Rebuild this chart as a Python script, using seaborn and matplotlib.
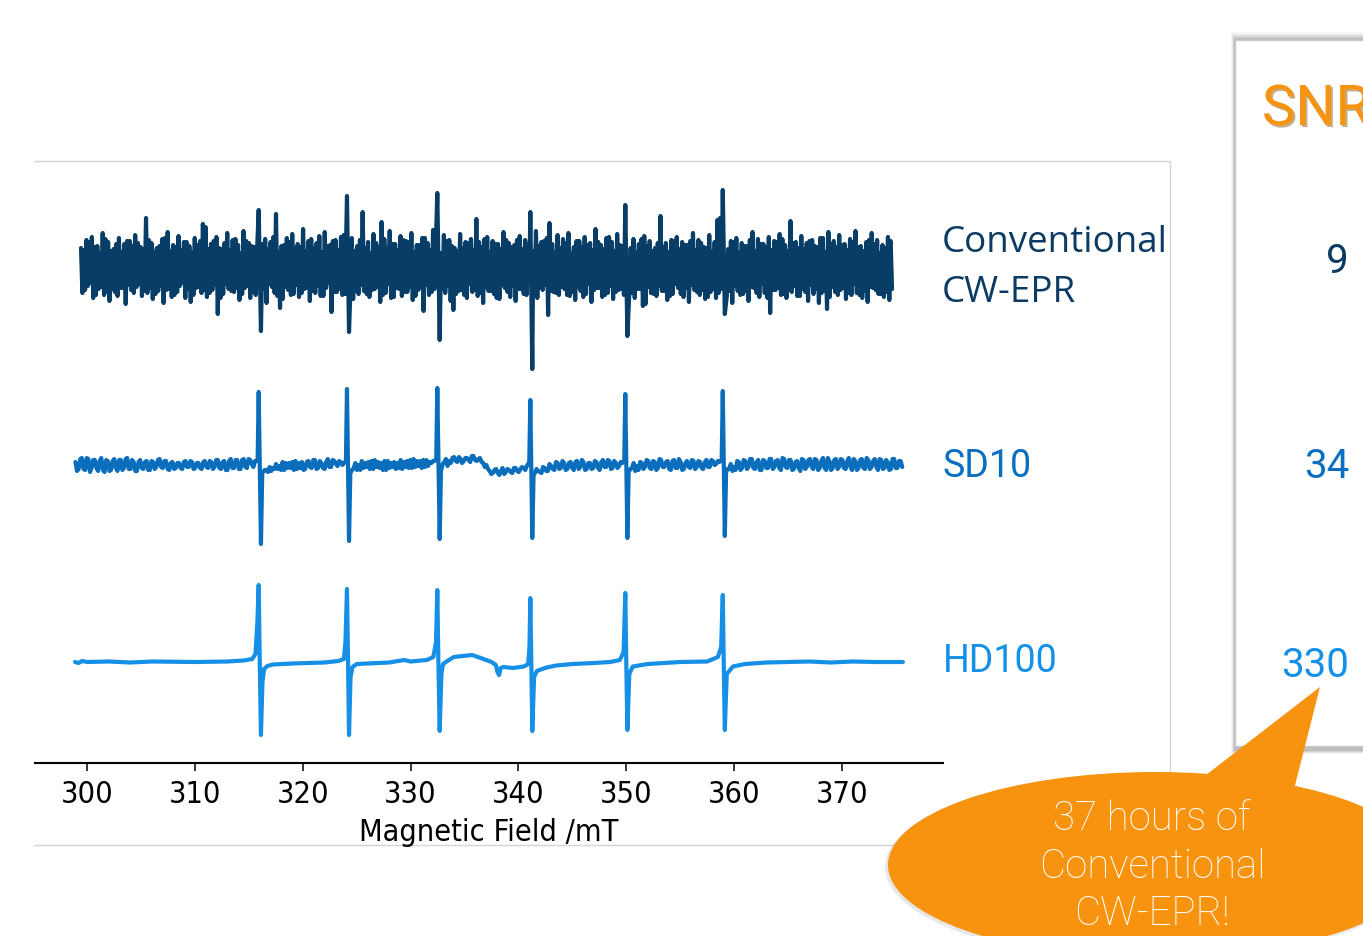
import numpy as np
import pandas as pd
import matplotlib
matplotlib.use("Agg")
import matplotlib.pyplot as plt
from matplotlib.patches import Ellipse, Polygon, Rectangle
import matplotlib.patheffects as pe
import seaborn as sns

# ------------------------------------------------------------------ data
field_ticks = [300, 310, 320, 330, 340, 350, 360, 370]
trace_names = ["Conventional", "SD10", "HD100"]
trace_offsets = [495, 298, 101]
trace_colors = ["#073d66", "#0b6ebd", "#168fe6"]
snr_values = ["9", "34", "330"]

# hyperfine line positions (mT): positive lobe / negative lobe
peak_up_x = [315.90, 324.09, 332.47, 341.10, 349.91, 358.95]
peak_dn_x = [316.11, 324.28, 332.69, 341.28, 350.10, 359.14]

# Conventional CW-EPR (very noisy); two read-off sample sets, taken pairwise in turn
conv_start, conv_end = 299.42, 374.65
conv_noise_a = [
    20, -25, 28, -18, 31, -30, 22, -21, 35, -27, 26, -33, 19, -24, 30, -20, 24, -36, 27, -22,
    33, -19, 21, -28, 50, -25, 25, -31, 20, -23, 29, -35, 36, -21, 23, -27, 32, -18, 26, -30,
    22, -34, 30, -20, 27, -25, 41, -29, 24, -22, 31, -46, 19, -26, 35, -21, 28, -24, 23, -32,
    37, -20, 25, -30, 21, -27, 33, -23, 29, -35, 26, -19, 54, -28, 22, -31, 30, -22, 34, -26,
    24, -29, 39, -21, 27, -33, 20, -25, 32, -28, 36, -20, 23, -44, 28, -24, 31, -27, 25, -22,
    30, -31, 22, -26, 56, -23, 26, -29, 34, -21, 21, -34, 29, -25, 37, -30, 24, -20, 32, -28,
    27, -24, 35, -32, 23, -22, 30, -43, 25, -27, 38, -21, 22, -29, 33, -25, 28, -33, 20, -26,
    34, -22, 26, -30, 29, -24, 49, -28, 21, -35, 31, -23, 27, -26, 24, -31, 36, -20, 25, -29,
    23, -33, 32, -21, 28, -27, 22, -25, 37, -30, 26, -22, 30, -47, 24, -24, 33, -27, 29, -21,
    35, -28, 21, -32, 27, -23, 31, -26, 25, -34, 39, -20, 23, -29, 30, -25, 26, -31, 34, -22,
    22, -27, 36, -24, 29, -30, 24, -21, 32, -36, 27, -25, 20, -28, 52, -23, 25, -32, 28, -26,
    31, -20, 26, -29, 23, -34, 35, -22, 28, -27, 21, -31, 33, -24, 26, -30, 50, -21, 24, -28,
    27, -35, 30, -23, 25, -26, 22, -33, 36, -20, 29, -29, 24, -25, 31, -45, 27, -22, 34, -27,
    23, -30, 47, -24, 26, -28, 32, -21, 25, -33, 28, -26, 21, -35, 30, -23, 36, -29, 27, -24,
    33, -22, 24, -31, 29, -27, 37, -25, 22, -30, 26, -34, 35, -20, 28, -26, 23, -29, 31, -32,
]
conv_noise_b = [
    18, -22, 26, -15, 21, -27, 15, -19, 29, -24, 17, -21, 24, -28, 16, -20, 27, -17, 22, -25,
    25, -16, 19, -23, 28, -20, 16, -26, 22, -18, 30, -22, 17, -29, 21, -24, 18, -15, 26, -21,
    16, -27, 23, -19, 44, -22, 19, -25, 27, -17, 20, -30, 25, -16, 18, -23, 29, -20, 15, -26,
    27, -18, 22, -24, 17, -29, 24, -21, 19, -16, 31, -25, 16, -40, 23, -19, 26, -27, 20, -17,
    21, -25, 17, -20, 29, -23, 25, -18, 16, -28, 22, -15, 27, -24, 18, -21, 33, -26, 19, -20,
    17, -23, 28, -17, 20, -26, 15, -22, 25, -19, 46, -27, 21, -16, 24, -29, 18, -21, 28, -24,
    26, -19, 16, -28, 23, -20, 30, -17, 18, -24, 21, -26, 15, -21, 27, -18, 22, -42, 17, -23,
    20, -27, 25, -16, 18, -22, 26, -25, 29, -19, 16, -23, 24, -30, 19, -17, 28, -24, 21, -18,
    28, -21, 19, -26, 24, -15, 17, -28, 22, -20, 27, -17, 45, -23, 16, -25, 20, -19, 25, -27,
    15, -24, 27, -19, 21, -29, 23, -16, 18, -22, 26, -20, 19, -27, 31, -18, 17, -24, 23, -21,
    24, -17, 20, -25, 16, -21, 29, -38, 22, -19, 17, -26, 25, -18, 21, -23, 16, -28, 27, -16,
    19, -26, 23, -20, 27, -17, 18, -24, 25, -22, 20, -29, 17, -21, 48, -25, 23, -18, 19, -23,
    26, -18, 16, -27, 22, -23, 28, -19, 17, -25, 24, -16, 21, -30, 18, -22, 26, -20, 29, -26,
    17, -22, 25, -18, 20, -28, 19, -24, 27, -17, 22, -21, 30, -25, 16, -41, 24, -19, 21, -27,
    23, -20, 18, -25, 26, -16, 21, -27, 17, -23, 28, -19, 24, -22, 15, -26, 20, -24, 27, -21,
]
conv_up = [58, 72, 75, 56, 63, 78]
conv_dn = [-63, -64, -72, -101, -68, -46]

# SD10 (moderate noise); two read-off sample sets, taken pairwise in turn
sd_start, sd_end = 298.9, 375.6
sd_noise_a = [
    3, -6, 7, -4, 6, -7, 5, -3, 7, -5,
    4, -6, 6, -3, 5, -5, 7, -4, 3, -6,
    5, -3, 4, -5, 3, -4, 6, -2, 4, -4,
    3, -4, 2, -3, 4, -2, 3, -4, 2, -3,
    4, -2, 3, -4, 5, -3, 4, -5, 6, -3,
    5, -4, 6, -2, 5, 1, 3,
    0, -7, -5, -2, -6, 1, -4, 3, -5, 2, -3, 4, -4,
    3, -5, 4, -2, 5, -4, 2, -3, 6, -2, 4, 1, 3,
    0, 0, -6,
    -3, 2, -5, 4, -2, 3, -4, 5, -3, 2, -5, 4, -2, 3,
    -3, 5, -2, 4, -3, 6, -1, 4, -2, 5, 2, 4,
    0,
    -2, 3, 6, 2, 7, 3, 8, 4, 7, 3, 9, 4, 6, 2,
    -2, -6, -9, -4, -8, -3, -9, -5, -7, -3, -6, -2, -3,
    2, 0, -8,
    -4, -8, -2, -6, 1, -5, 3, -3, 4, -4, 2, -5, 3, -2, 5, -4, 2, -3, 4, -5, 3, -2, 5, -3, 4, -1, 3,
    0,
    -6, -3, 2, -5, 3, -2, 5, -4, 4, -3, 6, -2, 3, -5, 4, -3, 6, -4, 2, -3, 5, -2, 4, -4, 3, -2, 5, 1, 4,
    0,
    -6, -4, 1, -5, 4, -3, 5, -2, 6, -4, 3, -5, 5, -3, 6, -2, 4, -5, 7, -3,
    5, -4, 3, -6, 6, -2, 5, -4, 6, -3, 4, -5, 7, -3, 5, -2, 6, -4, 4, -5,
    6, -3, 5, -4, 7, -2, 4, -5, 6, -3, 5, -4, 6, -3, 4,
]
sd_noise_b = [
    -4, 6, -5, 7, -3, 5, -6, 4, -7, 5,
    -5, 4, -6, 5, -3, 6, -4, 5, -6, 3,
    -4, 3, -5, 4, -2, 5, -3, 4, -5, 2,
    -3, 2, -4, 3, -2, 4, -3, 2, -4, 3,
    -3, 4, -2, 5, -4, 3, -5, 4, -3, 5,
    -4, 5, -3, 6, -2, 4, 2,
    0, -5, -7, -3, -4, -1, -5, 2, -3, 3, -5, 2, -3,
    -4, 3, -3, 5, -3, 4, -4, 3, -2, 5, -1, 4, 2,
    0, 0, -5,
    -5, 0, -3, 2, -4, 4, -2, 3, -5, 4, -3, 2, -4, 2,
    -4, 3, -3, 5, -2, 4, -3, 5, -1, 3, 4, 2,
    0,
    1, -1, 4, 8, 4, 6, 2, 7, 5, 9, 5, 7, 3, 0,
    -4, -8, -5, -10, -6, -7, -4, -8, -3, -7, -4, -5, -1,
    3, 0, -6,
    -7, -3, -6, -1, -4, 2, -4, 2, -5, 3, -3, 4, -4, 3, -5, 2, -4, 3, -3, 5, -2, 4, -4, 2, -3, 2, 1,
    0,
    -4, -6, -1, 2, -4, 4, -3, 3, -5, 5, -2, 4, -4, 5, -3, 3, -5, 4, -2, 4, -4, 3, -3, 5, -2, 4, 0, 3, 2,
    0,
    -4, -6, -2, 3, -5, 4, -4, 6, -3, 5, -5, 4, -3, 6, -4, 5, -3, 6, -2, 5,
    -5, 4, -3, 5, -4, 6, -2, 5, -5, 7, -3, 4, -5, 6, -4, 5, -3, 7, -2, 4,
    -5, 6, -3, 5, -4, 6, -2, 5, -4, 3, -5, 6, -3, 4, -2,
]
sd_pre = [4, 4, 6, 3, 4, 5]
sd_up = [73, 76, 77, 65, 71, 74]
sd_dn = [-79, -76, -74, -73, -73, -71]
sd_post = [-8, -8, -6, -10, -7, -7]

# HD100 (clean)
hd_x = [298.86, 299.2, 299.5, 300.0, 302.0, 304.0, 306.0, 310.0, 313.0, 314.5, 315.3, 315.6,
        315.78, 315.9, 316.0, 316.11, 316.25, 316.4, 316.7, 317.2, 319.0, 322.0, 323.3, 323.8,
        323.95, 324.09, 324.19, 324.28, 324.42, 324.6, 325.0, 327.0, 328.0, 329.4, 330.0, 331.5,
        332.1, 332.35, 332.47, 332.57, 332.69, 332.85, 333.0, 333.4, 334.0, 335.7, 336.5, 337.5,
        337.9, 338.05, 338.2, 338.35, 338.6, 339.5, 340.5, 340.9, 341.02, 341.10, 341.19, 341.28,
        341.45, 341.7, 342.6, 343.5, 345.0, 347.0, 348.5, 349.4, 349.75, 349.91, 350.0, 350.10,
        350.28, 350.6, 352.0, 355.0, 357.5, 358.5, 358.8, 358.95, 359.04, 359.14, 359.32, 359.9,
        361.0, 363.0, 365.0, 367.0, 369.0, 371.0, 373.0, 375.66]
hd_y = [0, -1, 1, 0, 0.5, -0.5, 0.5, 0, 0.5, 1.5, 3, 8,
        40, 77, 0, -73, -20, -7, -4, -2.5, -1.5, -0.5, 1, 3,
        20, 73, 0, -73, -15, -5, -2, -1, -0.5, 2, 0.5, 2,
        5, 20, 72, 0, -69, -12, -2, 1, 5, 7, 4, 0,
        -3, -10, -13, -6, -5, -6, -4.5, -2, 15, 64, 0, -69,
        -15, -9, -5.5, -3.5, -2, -1, 0, 2, 10, 69, 0, -68,
        -12, -4.5, -2, 0, 0.5, 5, 15, 67, 0, -68, -12, -4.5,
        -2, -0.5, 0, 0.5, -0.5, 0.5, 0, 0]


# ------------------------------------------------------------------ assemble traces
def pairwise_merge(a, b):
    a = np.asarray(a, float).reshape(-1, 2)
    b = np.asarray(b, float).reshape(-1, 2)
    return np.stack([a, b], axis=1).reshape(-1)


def assemble(start, end, noise, win_lo, win_hi, extra_x, extra_y):
    x = np.linspace(start, end, len(noise))
    y = np.asarray(noise, dtype=float)
    keep = np.ones(len(x), dtype=bool)
    for lo, hi in zip(win_lo, win_hi):
        keep &= ~((x > lo) & (x < hi))
    xs = np.concatenate([x[keep], np.asarray(extra_x, float)])
    ys = np.concatenate([y[keep], np.asarray(extra_y, float)])
    order = np.argsort(xs, kind="stable")
    return xs[order], ys[order]


cx, cy = assemble(conv_start, conv_end, pairwise_merge(conv_noise_a, conv_noise_b),
                  [u - 0.07 for u in peak_up_x], [d + 0.07 for d in peak_dn_x],
                  peak_up_x + peak_dn_x, conv_up + conv_dn)
sx, sy = assemble(sd_start, sd_end, pairwise_merge(sd_noise_a, sd_noise_b),
                  [u - 0.2 for u in peak_up_x], [d + 0.22 for d in peak_dn_x],
                  [u - 0.1 for u in peak_up_x] + peak_up_x + peak_dn_x + [d + 0.12 for d in peak_dn_x],
                  sd_pre + sd_up + sd_dn + sd_post)
hx, hy = np.asarray(hd_x), np.asarray(hd_y, float)

frames = []
for name, off, xs, ys in zip(trace_names, trace_offsets, [cx, sx, hx], [cy, sy, hy]):
    frames.append(pd.DataFrame({"field": xs, "signal": ys + off, "trace": name}))
df = pd.concat(frames, ignore_index=True)

# ------------------------------------------------------------------ figure
sns.set_theme(style="ticks")
plt.rcParams["font.family"] = ["DejaVu Sans"]

W, H = 1363, 936
fig = plt.figure(figsize=(W / 100, H / 100), dpi=100)
fig.patch.set_facecolor("white")

# overlay in pixel coordinates (slide decorations)
ov = fig.add_axes([0, 0, 1, 1], zorder=0)
ov.set_xlim(0, W)
ov.set_ylim(H, 0)
ov.axis("off")

# main spectrum axes
ax = fig.add_axes([35 / W, 1 - 763 / H, (943 - 35) / W, (763 - 161) / H], zorder=1)
ax.patch.set_alpha(0)
sns.lineplot(data=df, x="field", y="signal", hue="trace", palette=trace_colors,
             hue_order=trace_names, sort=False, estimator=None, legend=False,
             linewidth=3.0, ax=ax, solid_joinstyle="round", solid_capstyle="round")
ax.set_xlim(295.15, 379.38)
ax.set_ylim(0, 602)
ax.set_yticks([])
ax.set_ylabel("")
ax.set_xticks(field_ticks)
for s in ["top", "right", "left"]:
    ax.spines[s].set_visible(False)
ax.spines["bottom"].set_linewidth(1.5)
ax.spines["bottom"].set_color("black")
ax.tick_params(axis="x", direction="out", length=6, width=1.1, color="black",
               labelsize=22, pad=6, labelcolor="black")
for lab in ax.get_xticklabels():
    lab.set_fontstretch("condensed")
ax.set_xlabel("Magnetic Field /mT", fontsize=22, color="black", labelpad=6.5,
              fontstretch="condensed")

# image frame (light grey)
frame_c = "#d4d4d4"
ov.plot([34, 1170], [161, 161], color=frame_c, lw=1, zorder=1)
ov.plot([1170, 1170], [161, 845], color=frame_c, lw=1, zorder=1)
ov.plot([34, 1170], [845, 845], color=frame_c, lw=1, zorder=1)

# trace labels
lab_font = dict(fontsize=26.5, va="baseline", ha="left", zorder=3)
ov.text(942, 252, "Conventional", color="#0b3b63", family=["Open Sans", "DejaVu Sans"], **lab_font)
ov.text(942, 302, "CW-EPR", color="#0b3b63", family=["Open Sans", "DejaVu Sans"], **lab_font)
ov.text(943, 477, "SD10", color="#0a6fc0", family=["Roboto", "DejaVu Sans"],
        fontsize=27, va="baseline", ha="left", zorder=3)
ov.text(943, 672, "HD100", color="#1490e8", family=["Roboto", "DejaVu Sans"],
        fontsize=27, va="baseline", ha="left", zorder=3)

# SNR panel with shadow
for i, a in enumerate([0.08, 0.13, 0.18, 0.25]):
    ov.add_patch(Rectangle((1231 + i, 32 + i * 2), 200, 722 - i * 3, facecolor="#808080",
                           edgecolor="none", alpha=a, zorder=2))
ov.add_patch(Rectangle((1235, 40), 200, 706, facecolor="white", edgecolor="#c8c8c8",
                       lw=1, zorder=2.5))
ov.text(1262, 125, "SNR", color="#f7930e", family=["Roboto", "DejaVu Sans"], fontsize=40.5,
        va="baseline", ha="left", zorder=3,
        path_effects=[pe.withSimplePatchShadow(offset=(1.5, -1.5), shadow_rgbFace="#8a5a10", alpha=0.5)])
for val, yb, col in zip(snr_values, [273, 478, 677], ["#0b3b63", "#0a6fc0", "#1490e8"]):
    ov.text(1349, yb, val, color=col, family=["Roboto", "DejaVu Sans"], fontsize=29,
            va="baseline", ha="right", zorder=3)

# callout bubble
orange = "#f7930e"
ov.add_patch(Ellipse((1153, 867), 536, 188, facecolor="#888888", edgecolor="none",
                     alpha=0.2, zorder=4))
ov.add_patch(Polygon([(1180, 795), (1320, 687), (1290, 805)], closed=True,
                     facecolor=orange, edgecolor="none", zorder=5))
ov.add_patch(Ellipse((1155, 865), 534, 186, facecolor=orange, edgecolor="none", zorder=5))
for txt, yb in zip(["37 hours of", "Conventional", "CW-EPR!"], [830, 878, 925]):
    ov.text(1152, yb, txt, color="white", family=["Roboto", "DejaVu Sans"], fontweight="light",
            fontsize=29, ha="center", va="baseline", zorder=6)

fig.savefig("out.png", dpi=100, facecolor="white")
